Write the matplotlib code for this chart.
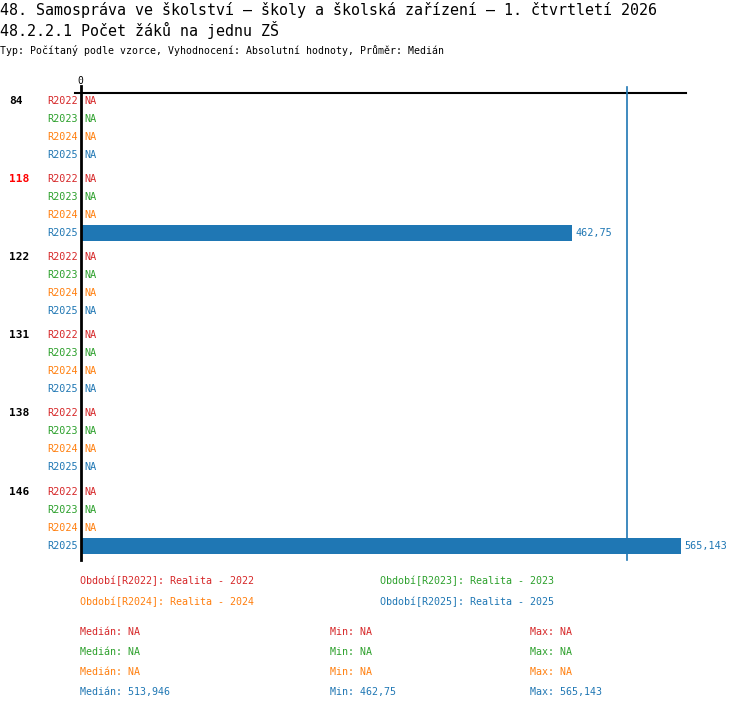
import numpy as np
import matplotlib.pyplot as plt

groups = ["84", "118", "122", "131", "138", "146"]
series = ["R2022", "R2023", "R2024", "R2025"]
colors = ["#d62728", "#2ca02c", "#ff7f0e", "#1f77b4"]
# NaN = NA
values = np.array([
    [np.nan, np.nan, np.nan, np.nan],
    [np.nan, np.nan, np.nan, 462.75],
    [np.nan, np.nan, np.nan, np.nan],
    [np.nan, np.nan, np.nan, np.nan],
    [np.nan, np.nan, np.nan, np.nan],
    [np.nan, np.nan, np.nan, 565.143],
])
highlight = "118"
legend_names = ["Realita - 2022", "Realita - 2023", "Realita - 2024", "Realita - 2025"]
medians = ["NA", "NA", "NA", "513,946"]
mins = ["NA", "NA", "NA", "462,75"]
maxs = ["NA", "NA", "NA", "565,143"]
median_value = 513.946

W, H = 750, 710
fig = plt.figure(figsize=(W / 100, H / 100), dpi=100)
plt.rcParams['font.family'] = ['DejaVu Sans Mono']

def fx(px):
    return px / W

def fy(py):
    return 1 - py / H

ax_l, ax_r, ax_t, ax_b = 81, 686, 93, 560
ax = fig.add_axes([fx(ax_l), fy(ax_b), fx(ax_r - ax_l), (ax_b - ax_t) / H])
for s in ax.spines.values():
    s.set_visible(False)
ax.set_xticks([])
ax.set_yticks([])

scale = (681 - 81) / 565.143
xmax = (ax_r - ax_l) / scale
step_row = 18
step_grp = 78.2 / step_row
y0 = 100.7  # pixel centre of the first row
ax.set_xlim(0, xmax)
ax.set_ylim((ax_b - y0) / step_row, (ax_t - y0) / step_row)

fmt = lambda v: ("%g" % v).replace(".", ",")

for gi, g in enumerate(groups):
    for si, s in enumerate(series):
        y = gi * step_grp + si
        v = values[gi, si]
        ax.text(-3 / scale, y, s, color=colors[si], ha="right", va="center",
                fontsize=7.3, clip_on=False)
        if np.isnan(v):
            ax.text(3 / scale, y, "NA", color=colors[si], ha="left", va="center",
                    fontsize=7.3, clip_on=False)
        else:
            ax.barh(y, v, height=0.9, color=colors[si])
            ax.text(v + 3 / scale, y, fmt(v), color=colors[si], ha="left",
                    va="center", fontsize=7.3, clip_on=False)
    gy = gi * step_grp
    ax.text(-72 / scale, gy, g, ha="left", va="center", fontsize=8, fontweight="bold",
            color="#ff0000" if g == highlight else "black", clip_on=False)

y_top = (86 - y0) / step_row
ax.plot([-6 / scale, xmax], [(ax_t - y0) / step_row] * 2, color="black", lw=1.5,
        clip_on=False)
ax.plot([0, 0], [y_top, ax.get_ylim()[0]], color="black", lw=2, clip_on=False)
ax.plot([median_value] * 2, [(87 - y0) / step_row, ax.get_ylim()[0]],
        color="#1f77b4", lw=1.2, clip_on=False)
fig.text(fx(80), fy(81), "0", ha="center", va="center", fontsize=7)

fig.text(fx(0), fy(10), "48. Samospráva ve školství – školy a školská zařízení – 1. čtvrtletí 2026",
         ha="left", va="center", fontsize=10.8)
fig.text(fx(0), fy(30), "48.2.2.1 Počet žáků na jednu ZŠ", ha="left", va="center",
         fontsize=10.8)
fig.text(fx(0), fy(50), "Typ: Počítaný podle vzorce, Vyhodnocení: Absolutní hodnoty, Průměr: Medián",
         ha="left", va="center", fontsize=7.1)

leg_pos = [(80, 581), (380, 581), (80, 602), (380, 602)]
for i, (px, py) in enumerate(leg_pos):
    fig.text(fx(px), fy(py), "Období[%s]: %s" % (series[i], legend_names[i]),
             color=colors[i], ha="left", va="center", fontsize=7.2)

for i in range(4):
    py = 632 + i * 20
    fig.text(fx(80), fy(py), "Medián: " + medians[i], color=colors[i], ha="left",
             va="center", fontsize=7.2)
    fig.text(fx(330), fy(py), "Min: " + mins[i], color=colors[i], ha="left",
             va="center", fontsize=7.2)
    fig.text(fx(530), fy(py), "Max: " + maxs[i], color=colors[i], ha="left",
             va="center", fontsize=7.2)

fig.savefig("out.png", dpi=100)
